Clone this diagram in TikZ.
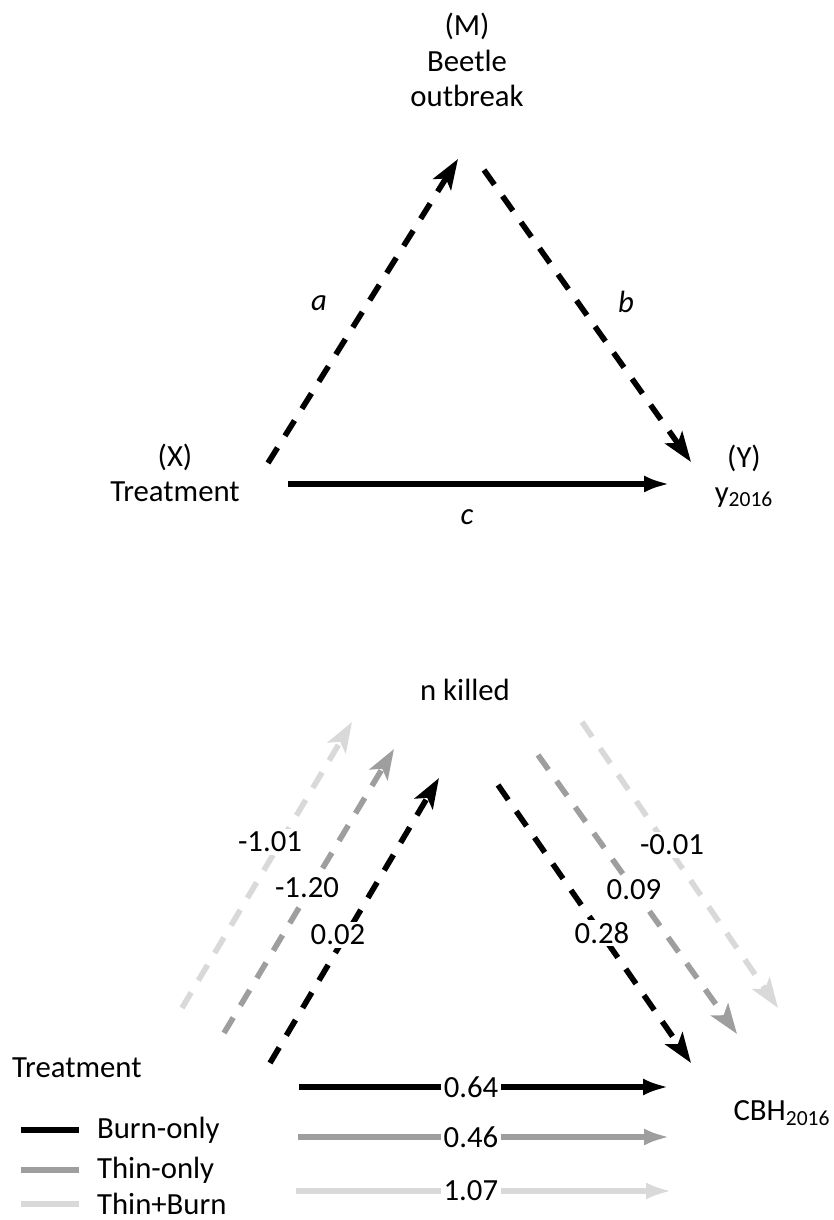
\documentclass[tikz,border=0pt]{standalone}
\usepackage{fontspec}
\setmainfont{Carlito}
\usepackage{tikz}
\usetikzlibrary{arrows.meta,positioning}

\begin{document}
\begin{tikzpicture}[
  txt/.style={font=\fontsize{17.5}{20}\selectfont, align=center, inner sep=1pt},
  arr/.style={-{Latex[length=0.52cm, width=0.34cm]}, line width=3.2pt},
  dsh/.style={-{Stealth[length=0.6cm, width=0.42cm, inset=0.14cm]}, line width=3.2pt, dash pattern=on 0.36cm off 0.28cm},
  val/.style={txt, fill=white, inner sep=1.5pt}
]
\useasboundingbox (0,0) rectangle (16.66,24.4);
% mediation model
\node[txt] (med) at (9.34,23.2) {(M)\\Beetle\\outbreak};
\node[txt] (trt) at (3.5,14.94) {(X)\\Treatment};
\node[txt] (out) at (14.88,14.88) {(Y)\\y\textsubscript{2016}};
\coordinate (a0) at (5.36,15.14);
\coordinate (a1) at (9.16,21.22);
\coordinate (b0) at (9.68,21.0);
\coordinate (b1) at (13.82,15.16);
\coordinate (c0) at (5.76,14.72);
\coordinate (c1) at (13.4,14.72);
\draw[dsh] (a0) -- (a1);
\draw[dsh] (b0) -- (b1);
\draw[arr] (c0) -- (c1);
\node[txt] (la) at (6.38,18.34) {\textit{a}};
\node[txt] (lb) at (12.52,18.36) {\textit{b}};
\node[txt] (lc) at (9.34,14.06) {\textit{c}};

% fitted paths per treatment
\node[txt] (kill) at (9.3,10.6) {n killed};
\node[txt] (cbh) at (15.64,2.14) {CBH\textsubscript{2016}};
\coordinate (ab0) at (5.4,3.14);
\coordinate (ab1) at (8.78,8.84);
\coordinate (at0) at (4.48,3.74);
\coordinate (at1) at (7.88,9.42);
\coordinate (atb0) at (3.64,4.24);
\coordinate (atb1) at (7.04,9.96);
\coordinate (bb0) at (9.96,8.7);
\coordinate (bb1) at (13.82,3.14);
\coordinate (bt0) at (10.76,9.3);
\coordinate (bt1) at (14.74,3.72);
\coordinate (btb0) at (11.64,9.96);
\coordinate (btb1) at (15.56,4.24);
\draw[dsh, black!15] (atb0) -- (atb1);
\draw[dsh, black!38] (at0) -- (at1);
\draw[dsh] (ab0) -- (ab1);
\draw[dsh, black!15] (btb0) -- (btb1);
\draw[dsh, black!38] (bt0) -- (bt1);
\draw[dsh] (bb0) -- (bb1);
\node[val] (va1) at (5.4,7.56) {-1.01};
\node[val] (va2) at (6.14,6.64) {-1.20};
\node[val] (va3) at (6.76,5.7) {0.02};
\node[val] (vb1) at (13.44,7.5) {-0.01};
\node[val] (vb2) at (12.68,6.6) {0.09};
\node[val] (vb3) at (12.04,5.74) {0.28};
\coordinate (cb0) at (5.98,2.66);
\coordinate (cb1) at (13.38,2.66);
\coordinate (ct0) at (5.96,1.66);
\coordinate (ct1) at (13.4,1.66);
\coordinate (ctb0) at (5.92,0.58);
\coordinate (ctb1) at (13.44,0.58);
\draw[arr] (cb0) -- node[val, pos=0.465] (vc1) {0.64} (cb1);
\draw[arr, black!38] (ct0) -- node[val, pos=0.465, text=black] (vc2) {0.46} (ct1);
\draw[arr, black!15] (ctb0) -- node[val, pos=0.465, text=black] (vc3) {1.07} (ctb1);

% legend
\node[txt, anchor=west] (leg) at (0.2,3.04) {Treatment};
\node[txt, anchor=west] (lg1) at (1.9,1.8) {Burn-only};
\node[txt, anchor=west] (lg2) at (1.9,1.0) {Thin-only};
\node[txt, anchor=west] (lg3) at (1.9,0.32) {Thin+Burn};
\draw[line width=3.2pt] (0.42,1.8) -- (lg1.west -| 1.58,0);
\draw[line width=3.2pt, black!38] (0.42,1.0) -- (lg2.west -| 1.58,0);
\draw[line width=3.2pt, black!15] (0.42,0.32) -- (lg3.west -| 1.58,0);
\end{tikzpicture}
\end{document}
